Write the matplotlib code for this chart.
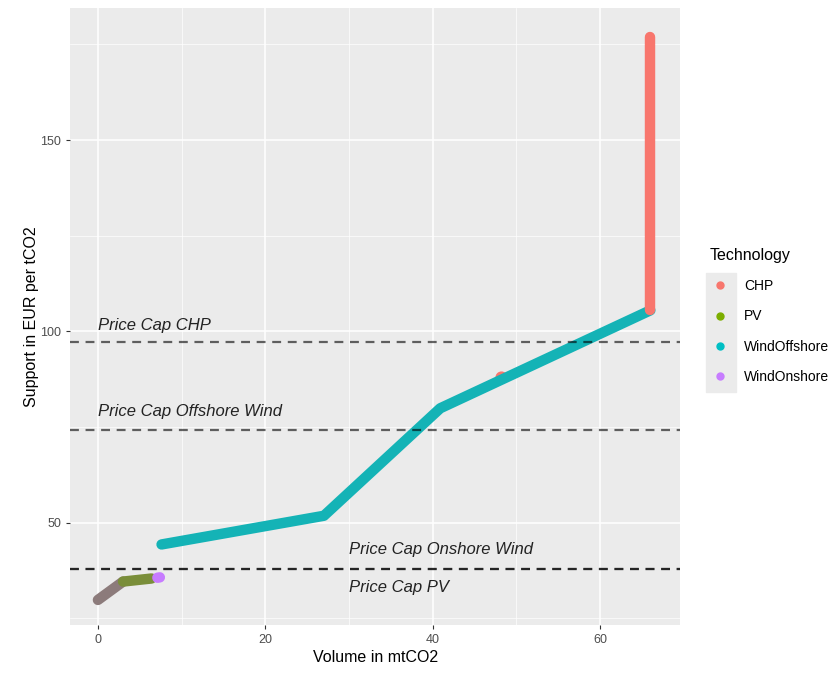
import matplotlib.pyplot as plt
from matplotlib.lines import Line2D
from matplotlib.patches import Rectangle
from matplotlib.ticker import MultipleLocator

plt.rcParams['font.family'] = ['Liberation Sans', 'DejaVu Sans']

# curve vertices (volume, support)
mixed_x = [0.0, 3.0]
mixed_y = [29.8, 34.6]
pv_x = [3.0, 6.4]
pv_y = [34.6, 35.4]
onshore_x = [7.1, 7.4]
onshore_y = [35.6, 35.7]
offshore_x = [7.6, 27.0, 40.9, 66.0]
offshore_y = [44.3, 51.8, 79.9, 105.5]
chp_x = [66.0, 66.0]
chp_y = [105.5, 177.0]
chp_dot_x = [48.2]
chp_dot_y = [88.0]

techs = ['CHP', 'PV', 'WindOffshore', 'WindOnshore']
colors = ['#F8766D', '#7CAE00', '#00BFC4', '#C77CFF']

cap_values = [97.1, 74.3, 38.0, 38.0]
cap_labels = ['Price Cap CHP', 'Price Cap Offshore Wind', 'Price Cap Onshore Wind', 'Price Cap PV']
label_x = [0, 0, 30, 30]
label_y = [101.5, 79.0, 43.0, 33.0]

fig = plt.figure(figsize=(8.37, 6.74), dpi=100)
ax = fig.add_axes([0.084, 0.073, 0.729, 0.915])
ax.set_facecolor('#EBEBEB')
for s in ax.spines.values():
    s.set_visible(False)

ax.set_xlim(-3.3, 69.6)
ax.set_ylim(23.3, 184.5)
ax.xaxis.set_major_locator(MultipleLocator(20))
ax.xaxis.set_minor_locator(MultipleLocator(10))
ax.yaxis.set_major_locator(MultipleLocator(50))
ax.yaxis.set_minor_locator(MultipleLocator(25))
ax.grid(which='major', color='white', lw=1.1)
ax.grid(which='minor', color='white', lw=0.5)
ax.set_axisbelow(True)
ax.tick_params(which='major', length=3, color='#333333', labelcolor='#4D4D4D', labelsize=9)
ax.tick_params(which='minor', length=0)

lw = 7.5
kw = dict(lw=lw, solid_capstyle='round', solid_joinstyle='round')
ax.scatter(chp_dot_x, chp_dot_y, s=60, color=colors[0], zorder=1.9)
ax.plot(mixed_x, mixed_y, color='#8C7B7B', **kw)
ax.plot(pv_x, pv_y, color='#7A8E3A', **kw)
ax.plot(onshore_x, onshore_y, color=colors[3], **kw)
ax.plot(offshore_x, offshore_y, color='#14B3B6', **kw)
ax.plot(chp_x, chp_y, color=colors[0], **kw)

for v in cap_values:
    ax.axhline(v, color='black', alpha=0.6, lw=1.6, ls=(0, (4, 3)))
for t, x, y in zip(cap_labels, label_x, label_y):
    ax.text(x, y, t, style='italic', fontsize=12, color='#222222', ha='left', va='center')

ax.set_xlabel('Volume in mtCO2', fontsize=11.5, labelpad=3)
ax.set_ylabel('Support in EUR per tCO2', fontsize=11.5, labelpad=1)

# gray legend key background
fig.patches.append(Rectangle((706 / 837, 1 - 392 / 674), 30 / 837, 119 / 674,
                             transform=fig.transFigure, color='#EBEBEB', zorder=0))

handles = [Line2D([], [], ls='', marker='o', ms=5, color=c) for c in colors]
leg = fig.legend(handles, techs, title='Technology', loc='upper left',
                 bbox_to_anchor=(0.834, 0.649), frameon=False, fontsize=10,
                 title_fontsize=11.5, handletextpad=0.9, labelspacing=1.18,
                 handlelength=1.6, borderpad=0.3)
leg._legend_box.align = 'left'

fig.savefig('out.png', dpi=100)
